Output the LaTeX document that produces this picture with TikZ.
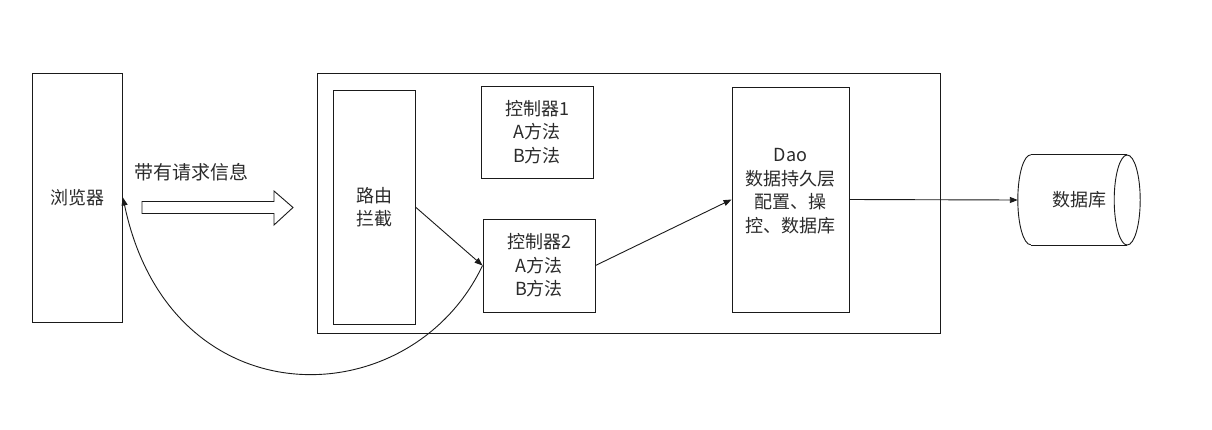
\documentclass[tikz,border=0pt]{standalone}
\usepackage{fontspec}
\newfontfamily\cjk{Noto Sans CJK SC}
\usetikzlibrary{arrows.meta}
\definecolor{linec}{HTML}{1A1A1A}
\definecolor{textc}{HTML}{2B2B2B}
\begin{document}
\begin{tikzpicture}[x=1pt,y=-1pt,
  line/.style={draw=linec, line width=0.9pt},
  box/.style={line, fill=white, inner sep=0pt},
  txt/.style={font=\cjk\fontsize{18}{23.5}\selectfont, text=textc, align=center},
  conn/.style={line, -{Triangle[length=8pt,width=6pt]}}]
  % canvas
  \path[fill=white] (0,0) rectangle (1212,429);
  \useasboundingbox (0,0) rectangle (1212,429);

  % browser
  \node[box, txt, minimum width=90, minimum height=249] (browser) at (77.5,197.5) {浏览器};

  % request label and block arrow
  \node[txt, font=\cjk\fontsize{19}{23.5}\selectfont] (req) at (191,172) {带有请求信息};
  \draw[line, fill=white] (142,201.5) -- (274,201.5) -- (274,191) -- (293,207.5)
        -- (274,225) -- (274,213.5) -- (142,213.5) -- cycle;

  % application container
  \node[box, minimum width=623, minimum height=260] (app) at (628.5,203) {};
  \node[box, txt, minimum width=82, minimum height=234] (router) at (374,207) {路由\\拦截};
  \node[box, txt, minimum width=112, minimum height=92] (ctrlA) at (537,132) {控制器1\\A方法\\B方法};
  \node[box, txt, minimum width=112, minimum height=93] (ctrlB) at (539,265.5) {控制器2\\A方法\\B方法};
  \node[box, minimum width=117, minimum height=225] (dao) at (790.5,199.5) {};
  \node[txt] (daotext) at (790.5,191) {Dao\\数据持久层\\配置、操\\控、数据库};

  % database cylinder
  \node[txt, minimum width=122, minimum height=90, inner sep=0pt] (db) at (1079,200) {数据库};
  \draw[line] ([xshift=13pt]db.north west) -- ([xshift=-13pt]db.north east)
              ([xshift=13pt]db.south west) -- ([xshift=-13pt]db.south east);
  \draw[line] ([xshift=-13pt]db.east) ellipse[x radius=13pt, y radius=45pt];
  \draw[line] ([xshift=13pt]db.north west) arc[start angle=90, end angle=270, x radius=13pt, y radius=45pt];

  % connectors
  \draw[conn] (router.east) -- (ctrlB.west);
  \draw[conn] (ctrlB.east) -- (dao.west);
  \draw[conn] (dao.east) -- (db.west);
  \draw[conn] (ctrlB.west) .. controls (410,418) and (170,422) .. (browser.east);
\end{tikzpicture}
\end{document}
